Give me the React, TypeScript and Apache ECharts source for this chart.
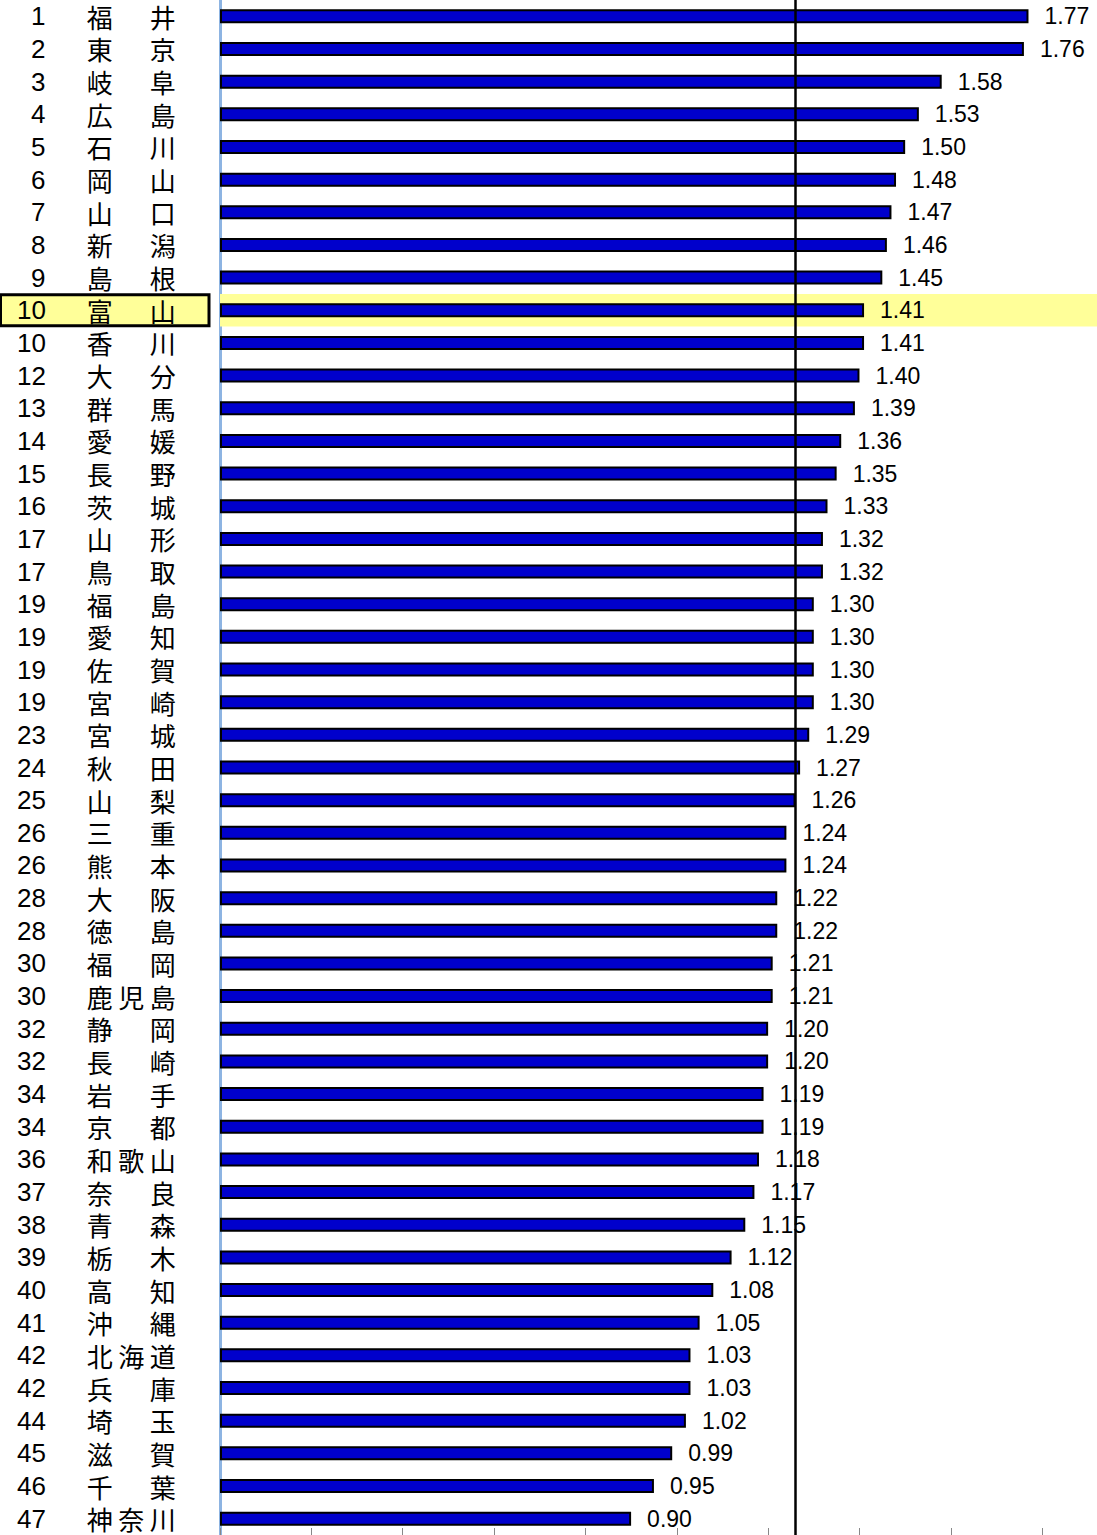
import React, { useEffect, useRef } from "react";
import * as echarts from "echarts";

const ranks = [1, 2, 3, 4, 5, 6, 7, 8, 9, 10, 10, 12, 13, 14, 15, 16, 17, 17, 19, 19, 19, 19, 23, 24, 25, 26, 26, 28, 28, 30, 30, 32, 32, 34, 34, 36, 37, 38, 39, 40, 41, 42, 42, 44, 45, 46, 47];
const prefectures = ["福井", "東京", "岐阜", "広島", "石川", "岡山", "山口", "新潟", "島根", "富山", "香川", "大分", "群馬", "愛媛", "長野", "茨城", "山形", "鳥取", "福島", "愛知", "佐賀", "宮崎", "宮城", "秋田", "山梨", "三重", "熊本", "大阪", "徳島", "福岡", "鹿児島", "静岡", "長崎", "岩手", "京都", "和歌山", "奈良", "青森", "栃木", "高知", "沖縄", "北海道", "兵庫", "埼玉", "滋賀", "千葉", "神奈川"];
const values = [1.77, 1.76, 1.58, 1.53, 1.50, 1.48, 1.47, 1.46, 1.45, 1.41, 1.41, 1.40, 1.39, 1.36, 1.35, 1.33, 1.32, 1.32, 1.30, 1.30, 1.30, 1.30, 1.29, 1.27, 1.26, 1.24, 1.24, 1.22, 1.22, 1.21, 1.21, 1.20, 1.20, 1.19, 1.19, 1.18, 1.17, 1.15, 1.12, 1.08, 1.05, 1.03, 1.03, 1.02, 0.99, 0.95, 0.90];
const highlightName = "富山";
const averageValue = 1.26;
const axisMin = 0;
const axisMax = 1.92;
const tickInterval = 0.2;

const CJK = '"Noto Sans CJK JP", "Noto Sans", sans-serif';
const NUM = '"Liberation Sans", Arial, sans-serif';

export default function App() {
  const ref = useRef<HTMLDivElement>(null);
  useEffect(() => {
    if (!ref.current) return;
    const chart = echarts.init(ref.current, null, { renderer: "svg" });
    const common = { fontFamily: CJK, fontSize: 26, color: "#000", lineHeight: 28 };
    const rich = {
      p1: { ...common, width: 29 },
      p2: { ...common, width: 15 },
      r1: { ...common, fontFamily: NUM, width: 16 },
      r2: { ...common, fontFamily: NUM, width: 30 },
      s: { ...common, width: 37 },
      c: { ...common, width: 31.5, align: "center" },
      e: { ...common, width: 29 },
    };
    const catData = prefectures.map((p) =>
      p === highlightName
        ? {
            value: p,
            textStyle: {
              align: "left",
              backgroundColor: "#FFFF99",
              borderColor: "#000000",
              borderWidth: 3,
              rich,
            },
          }
        : p
    );
    const bandData = prefectures.map((p) => (p === highlightName ? axisMax : null));
    chart.setOption({
      animation: false,
      grid: { left: 220, right: 0, top: 0, bottom: 0, containLabel: false, outerBoundsMode: "none" },
      xAxis: {
        type: "value",
        min: axisMin,
        max: axisMax,
        interval: tickInterval,
        axisLabel: { show: false },
        splitLine: { show: false },
        axisLine: { show: false },
        axisTick: { show: true, inside: true, length: 7, lineStyle: { color: "#888", width: 1 } },
      },
      yAxis: [
        {
          type: "category",
          inverse: true,
          data: catData,
          axisLine: { show: true, lineStyle: { color: "#8DB4E2", width: 3 } },
          axisTick: { show: false },
          axisLabel: {
            align: "left",
            margin: 218,
            interval: 0,
            formatter: (val: string, idx: number) => {
              const chars = Array.from(val);
              const c = chars.length === 3 ? chars : [chars[0], "　", chars[chars.length - 1]];
              const rk = String(ranks[idx]);
              const k = rk.length === 1 ? "1" : "2";
              return `{p${k}| }{r${k}|${rk}}{s| }{c|${c[0]}}{c|${c[1]}}{c|${c[2]}}{e| }`;
            },
            rich,
          },
        },
        {
          type: "category",
          inverse: true,
          show: false,
          data: prefectures,
        },
      ],
      series: [
        {
          type: "bar",
          yAxisIndex: 1,
          data: bandData,
          barWidth: "100%",
          itemStyle: { color: "#FFFF99" },
          silent: true,
          z: 1,
        },
        {
          type: "bar",
          yAxisIndex: 0,
          data: values,
          barWidth: 14,
          z: 2,
          itemStyle: { color: "#0000CC", borderColor: "#000000", borderWidth: 2 },
          label: {
            show: true,
            position: "right",
            distance: 16,
            fontFamily: NUM,
            fontSize: 23,
            color: "#000",
            formatter: (p: any) => Number(p.value).toFixed(2),
          },
          markLine: {
            silent: true,
            symbol: "none",
            label: { show: false },
            lineStyle: { color: "#000", width: 2.5, type: "solid" },
            data: [{ xAxis: averageValue }],
          },
        },
      ],
    });
    return () => chart.dispose();
  }, []);
  return (
    <div
      ref={ref}
      style={{ position: "absolute", left: 0, top: 0, width: 1097, height: 1535 }}
    />
  );
}
